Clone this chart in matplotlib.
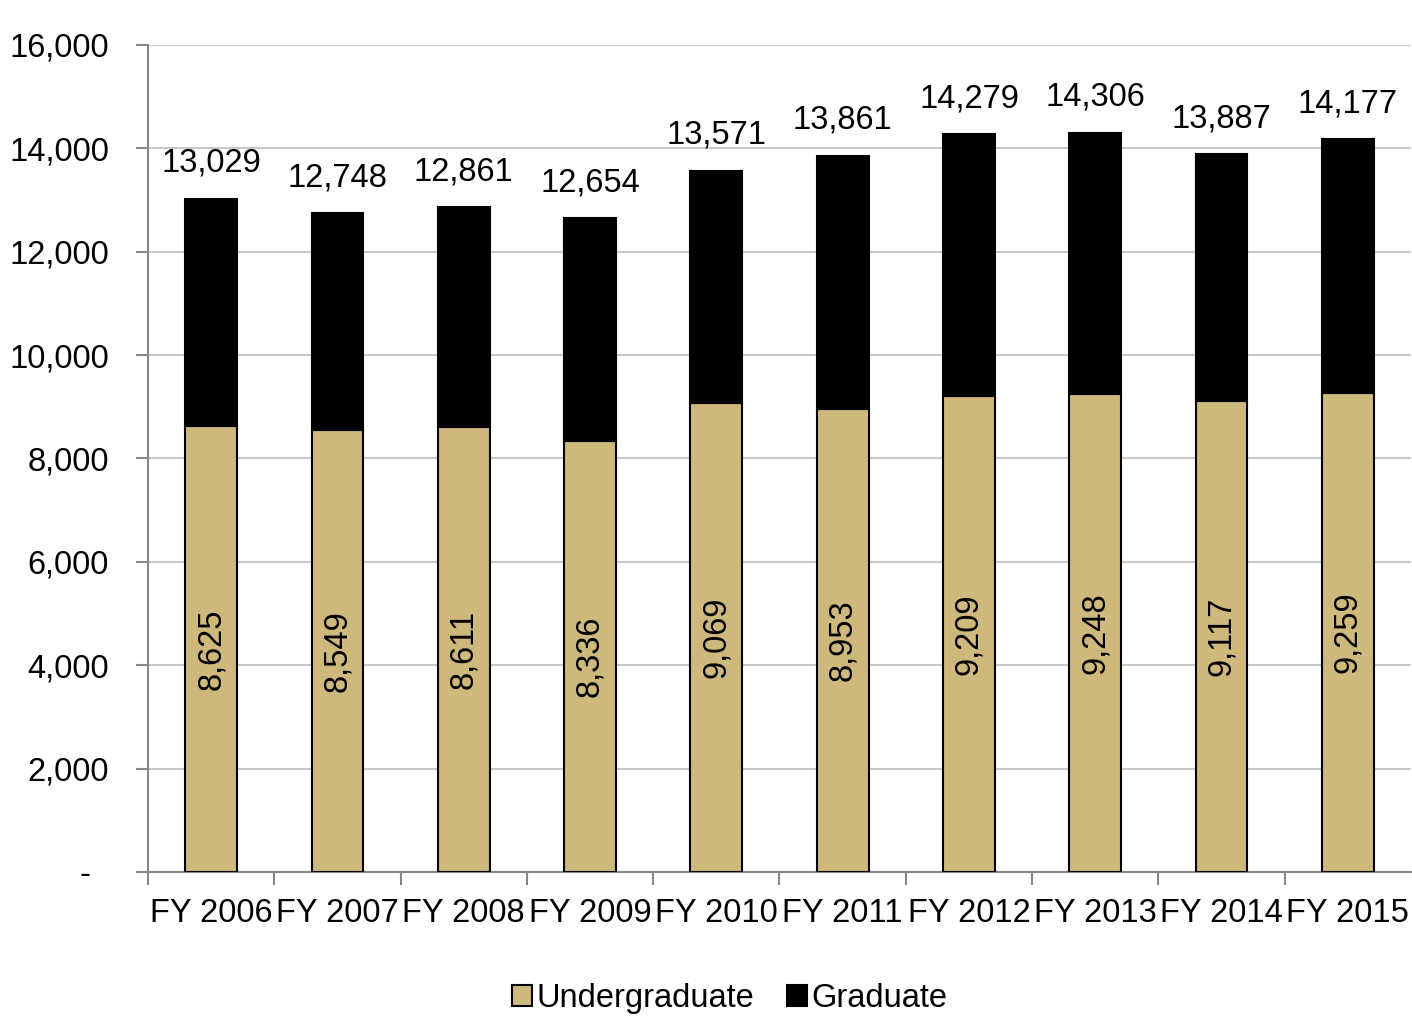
import matplotlib.pyplot as plt
import numpy as np

# data
years = ['FY 2006', 'FY 2007', 'FY 2008', 'FY 2009', 'FY 2010',
         'FY 2011', 'FY 2012', 'FY 2013', 'FY 2014', 'FY 2015']
undergrad = [8625, 8549, 8611, 8336, 9069, 8953, 9209, 9248, 9117, 9259]
totals = [13029, 12748, 12861, 12654, 13571, 13861, 14279, 14306, 13887, 14177]
graduate = [t - u for t, u in zip(totals, undergrad)]

plt.rcParams['font.family'] = ['Liberation Sans', 'DejaVu Sans']
fs = 23.5

fig = plt.figure(figsize=(14.12, 10.17), dpi=100)
ax = fig.add_axes([0.1048, 0.1426, 0.8945, 0.8132])

x = np.arange(len(years))
gold = '#cfb87c'
ax.bar(x, undergrad, width=0.41, color=gold, edgecolor='black', linewidth=1.5,
       label='Undergraduate', zorder=3)
ax.bar(x, graduate, width=0.41, bottom=undergrad, color='black',
       edgecolor='black', linewidth=1.5, label='Graduate', zorder=3)

for xi, u, t in zip(x, undergrad, totals):
    ax.text(xi, u / 2, f'{u:,}', rotation=90, ha='center', va='center',
            fontsize=fs, zorder=4)
    ax.text(xi, t + 380, f'{t:,}', ha='center', va='bottom', fontsize=fs)

ax.set_xlim(-0.5, len(years) - 0.5)
ax.set_ylim(0, 16000)
ax.set_yticks(np.arange(0, 16001, 2000))
ax.set_yticklabels(['-  '] + [f'{v:,}' for v in range(2000, 16001, 2000)])
ax.set_xticks(x)
ax.set_xticklabels(years)
ax.set_xticks(np.arange(-0.5, len(years) - 1), minor=True)
ax.tick_params(axis='x', which='major', length=0, labelsize=fs, pad=19)
ax.tick_params(axis='x', which='minor', length=9, width=1.5, color='#888888',
               direction='out')
ax.tick_params(axis='y', length=9, width=1.5, color='#888888', labelsize=fs,
               pad=19)

ax.grid(axis='y', color='#c8c8c8', linewidth=1.5, zorder=0)
for s in ['top', 'right']:
    ax.spines[s].set_visible(False)
for s in ['left', 'bottom']:
    ax.spines[s].set_color('#888888')
    ax.spines[s].set_linewidth(1.5)

handles, labels = ax.get_legend_handles_labels()
fig.legend(handles, labels, loc='center', bbox_to_anchor=(0.517, 0.018),
           ncol=2, frameon=False, fontsize=fs, handlelength=0.6,
           handleheight=0.6, handletextpad=0.15, columnspacing=1.0)

fig.savefig('out.png', dpi=100)
